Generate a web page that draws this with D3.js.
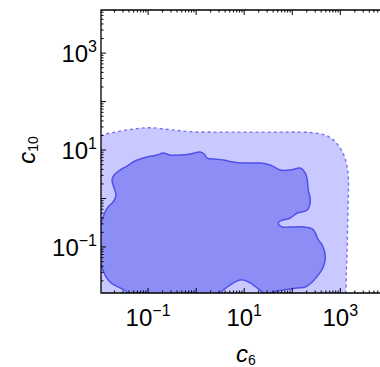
<!DOCTYPE html>
<html>
<head>
<meta charset="utf-8">
<script src="https://cdn.jsdelivr.net/npm/d3@7"></script>
<style>
  html, body { margin: 0; padding: 0; background: #fff; overflow: hidden; }
  svg { display: block; font-family: "Liberation Sans", Arial, Helvetica, sans-serif; }
</style>
</head>
<body>
<svg id="chart" width="380" height="367"></svg>
<script>
// Decade exponents that carry a tick label on each axis
const xLabelExps = [-1, 1, 3];
const yLabelExps = [-1, 1, 3];

// Visible range of the frame, as log10 exponents
const xDomainExp = [-1.98, 4.2];
const yDomainExp = [-1.95, 3.89];

// Outer (allowed) region boundary: [log10 c6, log10 c10]
const outerRegion = [
  [-2.35, 0.9], [-2.17, 1.12], [-1.98, 1.29], [-1.58, 1.39], [-1.25, 1.44],
  [-0.96, 1.46], [-0.54, 1.42], [-0.125, 1.38], [0.5, 1.37], [1.125, 1.37],
  [1.75, 1.37], [2.17, 1.37], [2.48, 1.35], [2.75, 1.28], [2.94, 1.12],
  [3.08, 0.88], [3.15, 0.6], [3.17, 0.35], [3.16, -0.2], [3.15, -0.65],
  [3.14, -1.1], [3.125, -1.5], [3.10, -2.1], [3.0, -2.5], [0.5, -2.6],
  [-2.3, -2.5], [-2.45, -1.0]
];

// Inner (preferred) region boundary: [log10 c6, log10 c10]
const innerRegion = [
  [-1.75, 0.381], [-1.708, 0.485], [-1.583, 0.588], [-1.4375, 0.670], [-1.3125, 0.753],
  [-1.167, 0.814], [-1.021, 0.856], [-0.8125, 0.897], [-0.6875, 0.938], [-0.542, 0.897],
  [-0.333, 0.897], [-0.125, 0.918], [0.083, 0.959], [0.167, 0.918], [0.229, 0.835],
  [0.396, 0.814], [0.5625, 0.794], [0.771, 0.753], [0.979, 0.732], [1.333, 0.732],
  [1.542, 0.691], [1.75, 0.588], [1.958, 0.588], [2.167, 0.629], [2.271, 0.526],
  [2.3125, 0.381], [2.333, 0.175], [2.375, -0.031], [2.3125, -0.237], [2.104, -0.299],
  [1.958, -0.402], [1.75, -0.464], [1.708, -0.526], [1.792, -0.588], [1.958, -0.588],
  [2.229, -0.588], [2.417, -0.629], [2.479, -0.711], [2.542, -0.856], [2.625, -0.959],
  [2.6875, -1.206], [2.646, -1.412], [2.542, -1.577], [2.417, -1.722], [2.271, -1.825],
  [2.104, -1.845], [1.8125, -1.887], [1.604, -1.928], [1.5, -2.01], [1.375, -1.928],
  [1.125, -1.742], [0.979, -1.680], [0.854, -1.70], [0.708, -1.784], [0.542, -1.907],
  [0.458, -2.03], [-0.542, -2.12], [-1.375, -2.03], [-1.4375, -1.928], [-1.583, -1.845],
  [-1.708, -1.784], [-1.792, -1.722], [-1.875, -1.619], [-1.9375, -1.474], [-2.0, -1.31],
  [-2.06, -0.96], [-2.04, -0.6], [-1.979, -0.485], [-1.9375, -0.402], [-1.896, -0.278],
  [-1.833, -0.175], [-1.729, -0.072], [-1.667, 0.07], [-1.708, 0.216]
];

const frame = { left: 101, right: 398, top: 10, bottom: 293 };

const x = d3.scaleLog()
  .domain(xDomainExp.map(e => 10 ** e))
  .range([frame.left, frame.right]);
const y = d3.scaleLog()
  .domain(yDomainExp.map(e => 10 ** e))
  .range([frame.bottom, frame.top]);

const svg = d3.select("#chart");

svg.append("defs").append("clipPath").attr("id", "plot-clip")
  .append("rect")
  .attr("x", frame.left).attr("y", frame.top)
  .attr("width", frame.right - frame.left).attr("height", frame.bottom - frame.top);

const area = d3.line()
  .x(d => x(10 ** d[0]))
  .y(d => y(10 ** d[1]))
  .curve(d3.curveCatmullRomClosed.alpha(0.5));

const plot = svg.append("g").attr("clip-path", "url(#plot-clip)");

plot.append("path")
  .attr("d", area(outerRegion))
  .attr("fill", "#c9c9ff")
  .attr("stroke", "#7272f0")
  .attr("stroke-width", 1.4)
  .attr("stroke-dasharray", "3,3");

plot.append("path")
  .attr("d", area(innerRegion))
  .attr("fill", "#8d8df6")
  .attr("stroke", "#5050ee")
  .attr("stroke-width", 1.5)
  .attr("stroke-linejoin", "round");

// Log ticks: majors at each decade, minors at 2..9
function logTicks(domainExp) {
  const out = [];
  for (let k = Math.floor(domainExp[0]); k <= Math.ceil(domainExp[1]); k++) {
    for (let m = 1; m <= 9; m++) {
      const e = k + Math.log10(m);
      if (e >= domainExp[0] && e <= domainExp[1]) out.push({ v: 10 ** e, major: m === 1 });
    }
  }
  return out;
}

const axes = svg.append("g").attr("stroke", "#000");
const xt = logTicks(xDomainExp);
const yt = logTicks(yDomainExp);

// bottom ticks (pointing up) and top ticks (pointing down)
axes.selectAll(".xb").data(xt).join("line")
  .attr("x1", d => x(d.v)).attr("x2", d => x(d.v))
  .attr("y1", frame.bottom).attr("y2", d => frame.bottom - (d.major ? 5 : 2.5))
  .attr("stroke-width", 1);
axes.selectAll(".xt").data(xt).join("line")
  .attr("x1", d => x(d.v)).attr("x2", d => x(d.v))
  .attr("y1", frame.top).attr("y2", d => frame.top + (d.major ? 5 : 2.5))
  .attr("stroke-width", 1);
// left ticks (pointing right)
axes.selectAll(".yl").data(yt).join("line")
  .attr("y1", d => y(d.v)).attr("y2", d => y(d.v))
  .attr("x1", frame.left).attr("x2", d => frame.left + (d.major ? 5 : 2.5))
  .attr("stroke-width", 1);

// frame lines
axes.append("path")
  .attr("d", `M${frame.right},${frame.top}H${frame.left}V${frame.bottom}H${frame.right}`)
  .attr("fill", "none")
  .attr("stroke-width", 1.3);

function powLabel(sel, exp) {
  sel.append("tspan").text("10").attr("font-size", 24);
  sel.append("tspan").text(exp < 0 ? "\u2212" + Math.abs(exp) : String(exp))
    .attr("font-size", 16).attr("dy", -10);
}

// x tick labels
xLabelExps.forEach(e => {
  const t = svg.append("text")
    .attr("x", x(10 ** e)).attr("y", 326)
    .attr("text-anchor", "middle").attr("fill", "#000");
  powLabel(t, e);
});

// y tick labels
yLabelExps.forEach(e => {
  const t = svg.append("text")
    .attr("x", 97).attr("y", y(10 ** e) + 9)
    .attr("text-anchor", "end").attr("fill", "#000");
  powLabel(t, e);
});

// axis titles
const xTitle = svg.append("text")
  .attr("x", 246).attr("y", 362)
  .attr("text-anchor", "middle").attr("fill", "#000");
xTitle.append("tspan").text("c").attr("font-size", 24).attr("font-style", "italic");
xTitle.append("tspan").text("6").attr("font-size", 14).attr("dy", 3);

const yTitle = svg.append("text")
  .attr("transform", "translate(35,150) rotate(-90)")
  .attr("text-anchor", "middle").attr("fill", "#000");
yTitle.append("tspan").text("c").attr("font-size", 24).attr("font-style", "italic");
yTitle.append("tspan").text("10").attr("font-size", 14).attr("dy", 3);
</script>
</body>
</html>
